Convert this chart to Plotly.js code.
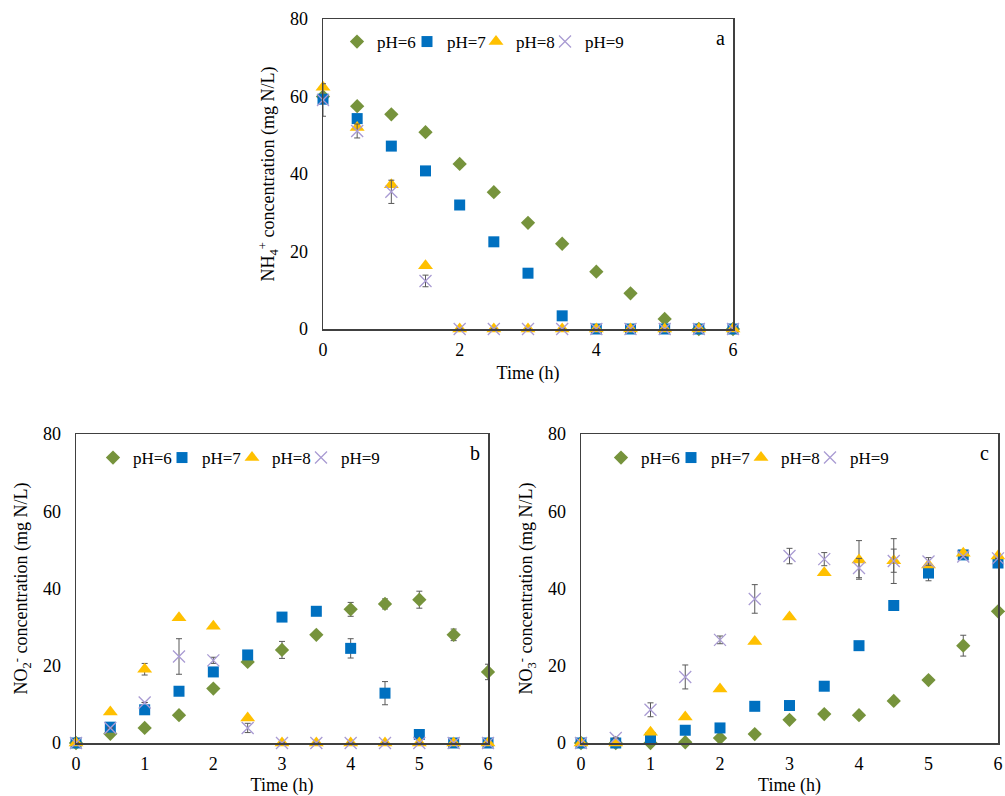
<!DOCTYPE html>
<html>
<head>
<meta charset="utf-8">
<script src="https://cdn.plot.ly/plotly-3.0.1.min.js"></script>
<style>html,body{margin:0;padding:0;background:#fff;}#chart{width:1005px;height:796px;}</style>
</head>
<body>
<div id="chart"></div>
<script>
// Time points (h)
const time = [0, 0.5, 1, 1.5, 2, 2.5, 3, 3.5, 4, 4.5, 5, 5.5, 6];
const seriesNames = ["pH=6", "pH=7", "pH=8", "pH=9"];

// Panel a: NH4+ (mg N/L)
const nh4_pH6 = [60, 57.5, 55.4, 50.8, 42.6, 35.3, 27.4, 22.0, 14.8, 9.2, 2.6, 0, 0];
const nh4_pH7 = [59.3, 54.3, 47.2, 40.8, 32.0, 22.5, 14.4, 3.4, 0, 0, 0, 0, 0];
const nh4_pH8 = [62.4, 52.0, 37.2, 16.3, 0, 0, 0, 0, 0, 0, 0, 0, 0];
const nh4_pH9 = [59.1, 51.1, 35.4, 12.4, 0, 0, 0, 0, 0, 0, 0, 0, 0];
const nh4_err_pH6 = [0,0,0,0,0,0,0,0,0,0,0,0,0];
const nh4_err_pH7 = [0,0,0,0,0,0,0,0,0,0,0,0,0];
const nh4_err_pH8 = [0,0,0,0,0,0,0,0,0,0,0,0,0];
const nh4_err_pH9 = [4.2, 1.8, 3.0, 1.5, 0,0,0,0,0,0,0,0,0];

// Panel b: NO2- (mg N/L)
const no2_pH6 = [0, 2.4, 3.9, 7.2, 14.1, 21.0, 24.1, 28.0, 34.6, 36.0, 37.1, 28.0, 18.4];
const no2_pH7 = [0, 4.1, 8.6, 13.4, 18.4, 22.8, 32.6, 34.1, 24.5, 12.9, 2.2, 0, 0];
const no2_pH8 = [0, 8.0, 19.1, 32.4, 30.2, 6.5, 0, 0, 0, 0, 0, 0, 0];
const no2_pH9 = [0, 3.9, 10.5, 22.4, 21.4, 3.9, 0, 0, 0, 0, 0, 0, 0];
const no2_err_pH6 = [0,0,0,0,0,0,2.2,0,1.8,1.3,2.2,1.5,2.0];
const no2_err_pH7 = [0,0,0,0,0,0,0,0,2.5,3.0,0,0,0];
const no2_err_pH8 = [0,0,1.5,0,0,0,0,0,0,0,0,0,0];
const no2_err_pH9 = [0,0,0,4.6,0.8,1.2,0,0,0,0,0,0,0];

// Panel c: NO3- (mg N/L)
const no3_pH6 = [0, 0, 0, 0.2, 1.3, 2.3, 6.0, 7.5, 7.2, 10.9, 16.3, 25.2, 34.1];
const no3_pH7 = [0, 0, 1.3, 3.3, 3.9, 9.5, 9.7, 14.7, 25.2, 35.6, 44.0, 48.7, 46.6];
const no3_pH8 = [0, 0, 2.8, 6.7, 14.0, 26.3, 32.6, 44.1, 47.4, 47.2, 46.1, 49.1, 48.4];
const no3_pH9 = [0, 1.3, 8.6, 17.1, 26.7, 37.3, 48.4, 47.6, 45.3, 47.1, 47.0, 48.3, 47.8];
const no3_err_pH6 = [0,0,0,0,0,0,0,0,0,0,0,2.7,0];
const no3_err_pH7 = [0,0,0,0,0,0,0,0,0,0,2.0,1.0,0];
const no3_err_pH8 = [0,0,0,0,0,0,0,0,5.0,3.0,0,0,0];
const no3_err_pH9 = [0,0,1.8,3.1,1.0,3.7,2.0,1.7,2.5,5.8,1.0,0,0];

const panelLabels = ["a", "b", "c"];
const yTitles = [
  "NH<sub>4</sub><sup>+</sup> concentration (mg N/L)",
  "NO<sub>2</sub><sup>-</sup> concentration (mg N/L)",
  "NO<sub>3</sub><sup>-</sup> concentration (mg N/L)"
];

const FONT = "'Liberation Serif', 'Times New Roman', serif";
const FS = 18;
const styles = [
  {symbol: "diamond", size: 11, color: "#76933C", line: {width: 0}},
  {symbol: "square", size: 11, color: "#0070C0", line: {width: 0}},
  {symbol: "triangle-up", size: 13, color: "#FFC000", line: {width: 0}},
  {symbol: "x-thin", size: 12, color: "#A99BD3", line: {width: 1.3, color: "#A99BD3"}}
];

const panels = [
  {vals: [nh4_pH6, nh4_pH7, nh4_pH8, nh4_pH9], errs: [nh4_err_pH6, nh4_err_pH7, nh4_err_pH8, nh4_err_pH9], xa: "x", ya: "y",
   legendSymX: [354, 424, 493, 562], legendY: 42},
  {vals: [no2_pH6, no2_pH7, no2_pH8, no2_pH9], errs: [no2_err_pH6, no2_err_pH7, no2_err_pH8, no2_err_pH9], xa: "x2", ya: "y2",
   legendSymX: [110, 179, 249, 318], legendY: 458},
  {vals: [no3_pH6, no3_pH7, no3_pH8, no3_pH9], errs: [no3_err_pH6, no3_err_pH7, no3_err_pH8, no3_err_pH9], xa: "x3", ya: "y3",
   legendSymX: [618, 688, 758, 827], legendY: 458}
];

function legendAt(xpx, ypx) {
  return {
    orientation: "h", x: xpx / 1005, y: 1 - ypx / 796, xanchor: "left", yanchor: "middle",
    bgcolor: "rgba(0,0,0,0)", borderwidth: 0,
    font: {family: FONT, size: 17, color: "#000"},
    itemwidth: 30, tracegroupgap: 0
  };
}

const traces = [];
const legends = {};
panels.forEach((p, pi) => {
  p.vals.forEach((v, i) => {
    const st = styles[i];
    const n = pi * 4 + i + 1;
    const lgName = n === 1 ? "legend" : "legend" + n;
    legends[lgName] = legendAt(p.legendSymX[i] - 17, p.legendY);
    traces.push({
      type: "scatter", mode: "markers", x: time, y: v, name: seriesNames[i],
      xaxis: p.xa, yaxis: p.ya, legend: lgName, cliponaxis: false,
      marker: {symbol: st.symbol, size: st.size, color: st.color, line: st.line},
      error_y: {type: "data", array: p.errs[i], visible: true, color: "#595959", thickness: 1, width: 3}
    });
  });
});

const dom = {
  a: {x: [323/1005, 733/1005], y: [1 - 329/796, 1 - 19/796]},
  b: {x: [76/1005, 488/1005], y: [1 - 743/796, 1 - 434/796]},
  c: {x: [581/1005, 998/1005], y: [1 - 743/796, 1 - 434/796]}
};

function xAxis(domain, anchor, dtick) {
  return {
    domain: domain, anchor: anchor, range: [0, 6], dtick: dtick, tick0: 0,
    showgrid: false, zeroline: false, showline: true, mirror: true,
    linecolor: "#404040", linewidth: 1.5,
    ticks: "outside", ticklen: 4, tickcolor: "rgba(0,0,0,0)",
    tickfont: {family: FONT, size: FS, color: "#000"},
    title: {text: "Time (h)", font: {family: FONT, size: FS, color: "#000"}, standoff: 7},
    automargin: false, fixedrange: true
  };
}
function yAxis(domain, anchor, title) {
  return {
    domain: domain, anchor: anchor, range: [0, 80], dtick: 20,
    showgrid: false, zeroline: false, showline: true, mirror: true,
    linecolor: "#404040", linewidth: 1.5,
    ticks: "outside", ticklen: 10, tickcolor: "rgba(0,0,0,0)",
    tickfont: {family: FONT, size: FS, color: "#000"},
    title: {text: title, font: {family: FONT, size: FS, color: "#000"}, standoff: 10},
    automargin: false, fixedrange: true
  };
}

const annotations = panels.map((p, i) => ({
  text: panelLabels[i], xref: p.xa, yref: p.ya, x: 5.81, y: 75, showarrow: false,
  font: {family: FONT, size: 20, color: "#000"}, xanchor: "center", yanchor: "middle"
}));

const layout = Object.assign({
  width: 1005, height: 796, margin: {l: 0, r: 0, t: 0, b: 0, autoexpand: false},
  paper_bgcolor: "#fff", plot_bgcolor: "#fff",
  showlegend: true,
  xaxis: xAxis(dom.a.x, "y", 2),
  yaxis: yAxis(dom.a.y, "x", yTitles[0]),
  xaxis2: xAxis(dom.b.x, "y2", 1),
  yaxis2: yAxis(dom.b.y, "x2", yTitles[1]),
  xaxis3: xAxis(dom.c.x, "y3", 1),
  yaxis3: yAxis(dom.c.y, "x3", yTitles[2]),
  annotations: annotations
}, legends);

Plotly.newPlot("chart", traces, layout, {staticPlot: true, displayModeBar: false});
</script>
</body>
</html>
